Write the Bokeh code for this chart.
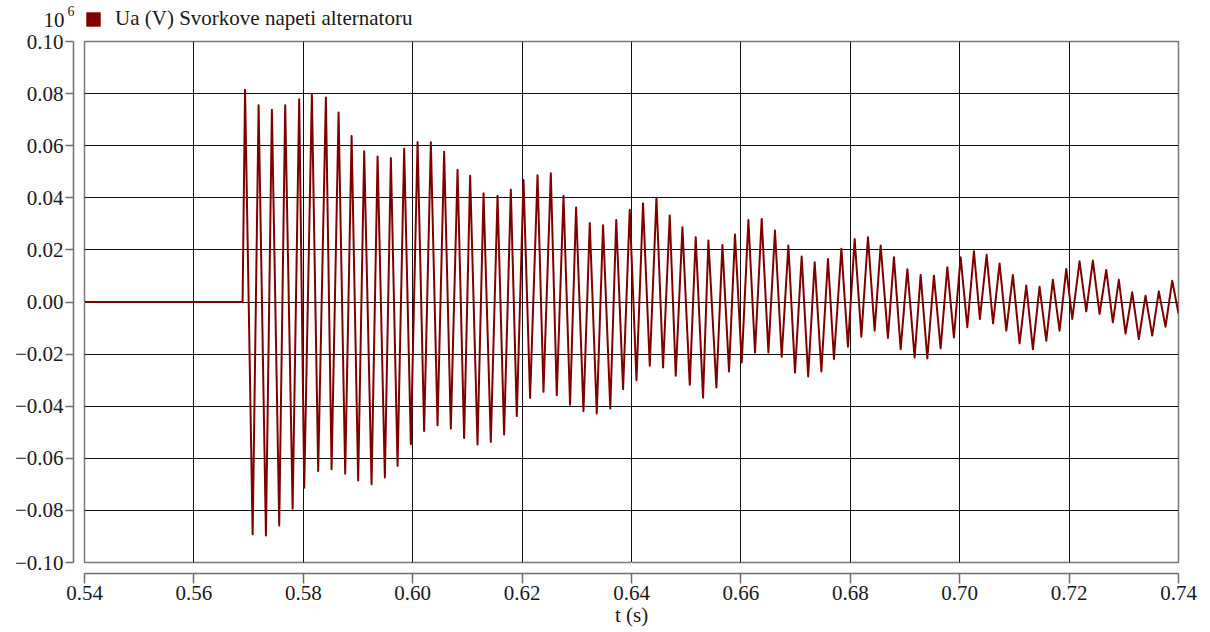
from bokeh.plotting import figure
from bokeh.layouts import column
from bokeh.models import (LinearAxis, FixedTicker, Grid, Range1d, Legend, LegendItem,
                          ColumnDataSource)
from bokeh.embed import file_html
from bokeh.resources import INLINE

# ---------------- data (values in units of 10^6 V) ----------------
series_name = "Ua (V) Svorkove napeti alternatoru"
x_label = "t (s)"
y_multiplier = ["10", "6"]          # base and exponent of the y-axis multiplier

x_ticks = [0.54, 0.56, 0.58, 0.60, 0.62, 0.64, 0.66, 0.68, 0.70, 0.72, 0.74]
x_tick_labels = ["0.54", "0.56", "0.58", "0.60", "0.62", "0.64", "0.66", "0.68", "0.70", "0.72", "0.74"]
y_ticks = [-0.10, -0.08, -0.06, -0.04, -0.02, 0.0, 0.02, 0.04, 0.06, 0.08, 0.10]
y_tick_labels = ["\u22120.10", "\u22120.08", "\u22120.06", "\u22120.04", "\u22120.02", "0.00",
                 "0.02", "0.04", "0.06", "0.08", "0.10"]

# steady state before the switching event
pre_t = [0.54, 0.5689]
pre_v = [0.0, 0.0]

# local maxima of the transient
peak_t = [0.56935, 0.57183, 0.57426, 0.57669, 0.57925, 0.58157, 0.58413, 0.58645, 0.58883, 0.59113,
          0.59358, 0.59601, 0.59844, 0.60089, 0.60332, 0.60575, 0.60820, 0.61050, 0.61295, 0.61551,
          0.61794, 0.62026, 0.62282, 0.62525, 0.62757, 0.62987, 0.63237, 0.63480, 0.63721, 0.63968,
          0.64211, 0.64456, 0.64699, 0.64931, 0.65174, 0.65406, 0.65662, 0.65892, 0.66137, 0.66380,
          0.66623, 0.66868, 0.67111, 0.67349, 0.67592, 0.67837, 0.68080, 0.68323, 0.68555, 0.68798,
          0.69043, 0.69286, 0.69529, 0.69774, 0.70017, 0.70260, 0.70492, 0.70729, 0.70972, 0.71217,
          0.71460, 0.71703, 0.71948, 0.72191, 0.72434, 0.72679, 0.72909, 0.73154, 0.73397, 0.73640,
          0.73885]
peak_v = [0.0815, 0.0755, 0.0738, 0.0755, 0.0778, 0.0797, 0.0785, 0.0727, 0.0637, 0.0579,
          0.0559, 0.0553, 0.0588, 0.0614, 0.0613, 0.0577, 0.0508, 0.0485, 0.0417, 0.0408,
          0.0431, 0.0468, 0.0487, 0.0494, 0.0408, 0.0363, 0.0303, 0.0295, 0.0315, 0.0354,
          0.0379, 0.0400, 0.0332, 0.0287, 0.0249, 0.0236, 0.0219, 0.0259, 0.0315, 0.0319,
          0.0274, 0.0217, 0.0175, 0.0153, 0.0165, 0.0204, 0.0242, 0.0249, 0.0217, 0.0172,
          0.0126, 0.0104, 0.0101, 0.0133, 0.0172, 0.0195, 0.0181, 0.0148, 0.0104, 0.0063,
          0.0059, 0.0085, 0.0127, 0.0156, 0.0159, 0.0123, 0.0085, 0.0037, 0.0024, 0.0041,
          0.0082]

# local minima of the transient
trough_t = [0.57074, 0.57317, 0.57560, 0.57805, 0.58017, 0.58272, 0.58517, 0.58766, 0.59003, 0.59248,
            0.59491, 0.59723, 0.59966, 0.60209, 0.60454, 0.60697, 0.60940, 0.61185, 0.61428, 0.61671,
            0.61903, 0.62146, 0.62391, 0.62634, 0.62877, 0.63122, 0.63365, 0.63612, 0.63846, 0.64091,
            0.64334, 0.64577, 0.64809, 0.65065, 0.65308, 0.65552, 0.65783, 0.66015, 0.66258, 0.66503,
            0.66746, 0.66989, 0.67230, 0.67471, 0.67701, 0.67957, 0.68202, 0.68445, 0.68688, 0.68920,
            0.69176, 0.69408, 0.69651, 0.69894, 0.70139, 0.70369, 0.70610, 0.70852, 0.71095, 0.71338,
            0.71583, 0.71826, 0.72058, 0.72314, 0.72557, 0.72800, 0.73032, 0.73275, 0.73520, 0.73763]
trough_v = [-0.0892, -0.0896, -0.0858, -0.0794, -0.0713, -0.0649, -0.0642, -0.0659, -0.0685, -0.0700,
            -0.0674, -0.0629, -0.0546, -0.0495, -0.0473, -0.0486, -0.0522, -0.0547, -0.0537, -0.0509,
            -0.0438, -0.0368, -0.0345, -0.0358, -0.0394, -0.0419, -0.0428, -0.0409, -0.0335, -0.0300,
            -0.0245, -0.0251, -0.0283, -0.0318, -0.0367, -0.0328, -0.0267, -0.0232, -0.0194, -0.0194,
            -0.0210, -0.0271, -0.0286, -0.0267, -0.0219, -0.0172, -0.0133, -0.0110, -0.0138, -0.0181,
            -0.0213, -0.0217, -0.0178, -0.0136, -0.0097, -0.0065, -0.0082, -0.0110, -0.0159, -0.0181,
            -0.0149, -0.0110, -0.0065, -0.0036, -0.0046, -0.0078, -0.0121, -0.0142, -0.0129, -0.0095]

end_t = [0.74]
end_v = [-0.0044]

# ---------------- assemble the trace ----------------
t_all = list(pre_t)
v_all = list(pre_v)
for i in range(len(peak_t)):
    t_all.append(peak_t[i]); v_all.append(peak_v[i])
    if i < len(trough_t):
        t_all.append(trough_t[i]); v_all.append(trough_v[i])
t_all += end_t
v_all += end_v

# ---------------- styling ----------------
FONT = "Liberation Serif"
FS = "21px"
LINE_COLOR = "#800000"
AXIS_COLOR = "#6e6e6e"
TEXT_COLOR = "#1a1a1a"
HEADER_H = 31
NAN = float("nan")


def spacer(size, tick):
    # blank axis (one white tick, empty label) that only reserves room
    return LinearAxis(ticker=FixedTicker(ticks=[tick]), major_label_overrides={tick: ""},
                      axis_line_color=None,
                      major_tick_line_color="white", minor_tick_line_color=None,
                      major_tick_out=size, major_tick_in=0, minor_tick_out=0, minor_tick_in=0,
                      major_label_standoff=0, axis_label_standoff=0,
                      major_label_text_font_size="1px", major_label_text_color="white")


def text_axis(tick, text, size, standoff):
    # an axis whose only job is to print one horizontal text left of the frame
    return LinearAxis(ticker=FixedTicker(ticks=[tick]), major_label_overrides={tick: text},
                      axis_line_color=None, major_tick_line_color=None,
                      minor_tick_line_color=None, major_tick_out=0, major_tick_in=0,
                      major_label_standoff=standoff, major_label_text_font=FONT,
                      major_label_text_font_size=size, major_label_text_color=TEXT_COLOR)


# ---------------- header strip (multiplier + legend) ----------------
header = figure(width=1210, height=HEADER_H, x_range=Range1d(0, 1), y_range=Range1d(0, 1),
                x_axis_location=None, y_axis_location=None,
                output_backend="svg", toolbar_location=None,
                min_border_left=84, min_border_right=32, min_border_top=0, min_border_bottom=0)
header.center = []
header.outline_line_color = None

header.add_layout(text_axis(0.67, y_multiplier[1], "14px", 10), "left")  # exponent
header.add_layout(text_axis(0.37, y_multiplier[0], FS, 0), "left")       # base
header.add_layout(spacer(40, 0.5), "left")

swatch = header.quad(left=[NAN], right=[NAN], top=[NAN], bottom=[NAN],
                     fill_color=LINE_COLOR, line_color=None)
legend = Legend(items=[LegendItem(label=series_name, renderers=[swatch])],
                location=(0, 0), border_line_color=None, background_fill_alpha=0,
                padding=0, margin=0, spacing=0, glyph_width=18, glyph_height=18,
                label_standoff=13, label_height=18,
                label_text_font=FONT, label_text_font_size=FS, label_text_color=TEXT_COLOR)
header.add_layout(legend)

# ---------------- main plot ----------------
p = figure(width=1210, height=632 - HEADER_H,
           x_range=Range1d(0.54, 0.74), y_range=Range1d(-0.10, 0.10),
           x_axis_location=None, y_axis_location=None,
           output_backend="svg", toolbar_location=None,
           min_border_left=84, min_border_right=32, min_border_top=41 - HEADER_H,
           min_border_bottom=70)
p.center = []
p.outline_line_color = "#7a7a7a"
p.outline_line_width = 1.5
p.background_fill_color = "white"
p.border_fill_color = "white"

p.add_layout(Grid(dimension=0, ticker=FixedTicker(ticks=x_ticks),
                  grid_line_color="#111111", grid_line_width=1))
p.add_layout(Grid(dimension=1, ticker=FixedTicker(ticks=y_ticks),
                  grid_line_color="#111111", grid_line_width=1))


def real_axis(ticks, labels, tick_out, standoff, label=None):
    ax = LinearAxis(ticker=FixedTicker(ticks=ticks),
                    major_label_overrides=dict(zip(ticks, labels)),
                    axis_line_color=AXIS_COLOR, axis_line_width=1.5,
                    major_tick_line_color=AXIS_COLOR, major_tick_line_width=1.5,
                    major_tick_out=tick_out, major_tick_in=0,
                    minor_tick_line_color=None,
                    major_label_text_font=FONT, major_label_text_font_size=FS,
                    major_label_text_color=TEXT_COLOR, major_label_standoff=standoff)
    if label is not None:
        ax.axis_label = label
        ax.axis_label_text_font = FONT
        ax.axis_label_text_font_size = FS
        ax.axis_label_text_font_style = "normal"
        ax.axis_label_text_color = TEXT_COLOR
        ax.axis_label_standoff = 0
    return ax


p.add_layout(spacer(11, x_ticks[5]), "below")
p.add_layout(real_axis(x_ticks, x_tick_labels, 10, 2, x_label), "below")
p.add_layout(spacer(11, y_ticks[5]), "left")
p.add_layout(real_axis(y_ticks, y_tick_labels, 8, 2), "left")

src = ColumnDataSource(data=dict(t=t_all, v=v_all))
p.line("t", "v", source=src, line_color=LINE_COLOR, line_width=2, line_join="round")

layout = column(header, p, spacing=0)
open("out.html", "w").write(file_html(layout, INLINE))
